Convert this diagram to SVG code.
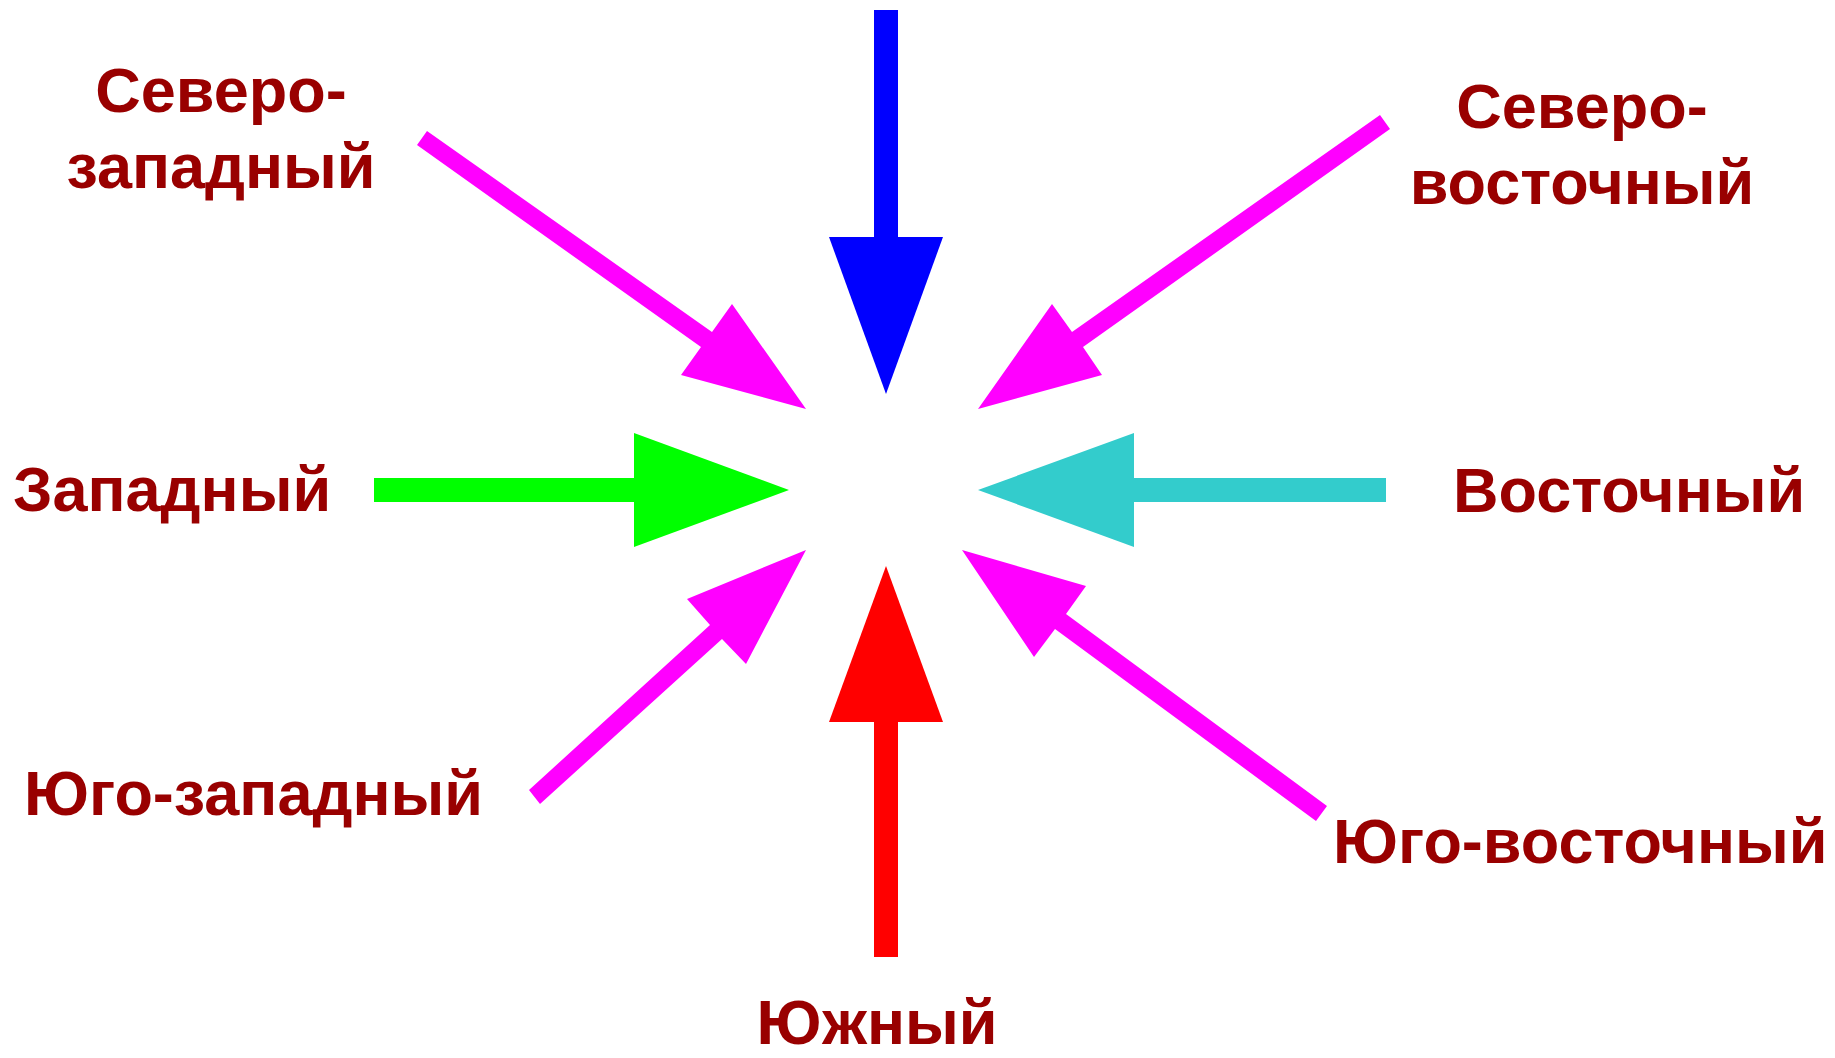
<svg xmlns="http://www.w3.org/2000/svg" width="1835" height="1058" viewBox="0 0 1835 1058">
<style>
.lbl{font-family:"Liberation Sans",Arial,sans-serif;font-weight:bold;font-size:63px;fill:#990000}
.mg{fill:#ff00ff}
</style>
<rect width="1835" height="1058" fill="#ffffff"/>
<g id="connectors">
<g id="north-arrow"><rect x="874" y="10" width="24" height="228" fill="#0000ff"/><polygon points="829,237 943,237 886,394" fill="#0000ff"/></g>
<g id="south-arrow"><rect x="874" y="721" width="24" height="236" fill="#ff0000"/><polygon points="829,722 943,722 886,566" fill="#ff0000"/></g>
<g id="west-arrow"><rect x="374" y="478" width="261" height="24" fill="#00ff00"/><polygon points="634,433 634,547 789,490" fill="#00ff00"/></g>
<g id="east-arrow"><rect x="1133" y="478" width="253" height="24" fill="#33cccc"/><polygon points="1134,433 1134,547 978,490" fill="#33cccc"/></g>
<g id="nw-arrow"><polygon class="mg" points="427,131 712,332 732,304 806,409 681,375 701,347 417,145"/></g>
<g id="ne-arrow"><polygon class="mg" points="1380,115 1072,332 1052,304 978,409 1102,375 1083,347 1390,129"/></g>
<g id="sw-arrow"><polygon class="mg" points="529,790 710,625 687,599 806,550 746,664 722,639 540,804"/></g>
<g id="se-arrow"><polygon class="mg" points="1327,806 1066,614 1086,586 962,550 1034,657 1055,629 1316,821"/></g>
</g>
<g id="nw-label"><text class="lbl" x="221" y="112" text-anchor="middle">Северо-</text><text class="lbl" x="221" y="188" text-anchor="middle">западный</text></g>
<g id="ne-label"><text class="lbl" x="1582" y="128" text-anchor="middle">Северо-</text><text class="lbl" x="1582" y="204" text-anchor="middle">восточный</text></g>
<g id="w-label"><text class="lbl" x="13" y="511">Западный</text></g>
<g id="e-label"><text class="lbl" x="1453" y="512">Восточный</text></g>
<g id="sw-label"><text class="lbl" x="24" y="815">Юго-западный</text></g>
<g id="se-label"><text class="lbl" x="1333" y="863">Юго-восточный</text></g>
<g id="s-label"><text class="lbl" x="877" y="1044" text-anchor="middle">Южный</text></g>
</svg>
